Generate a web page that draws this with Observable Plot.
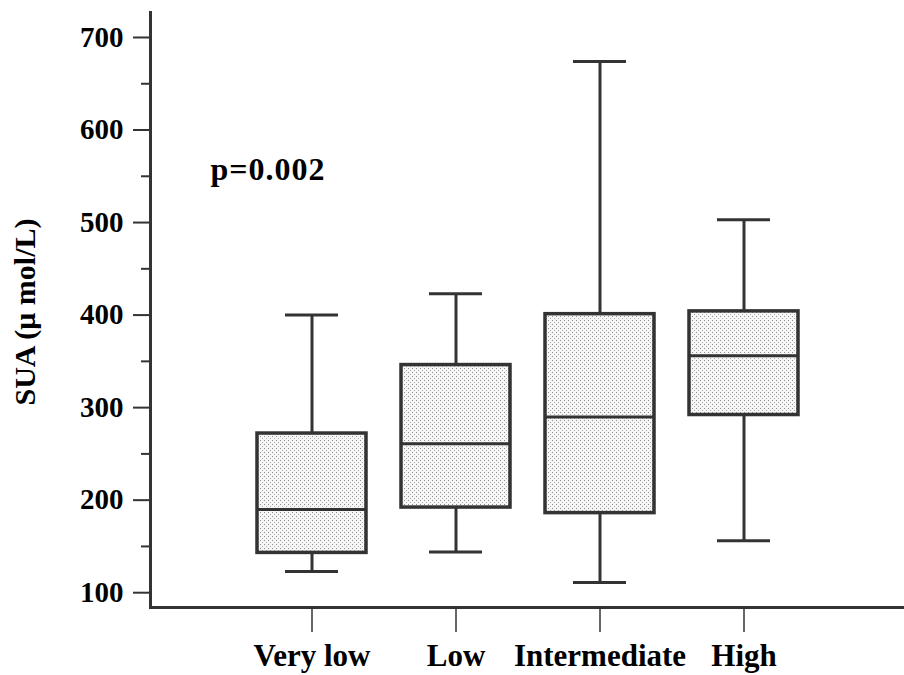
<!DOCTYPE html>
<html>
<head>
<meta charset="utf-8">
<script src="https://cdn.jsdelivr.net/npm/d3@7"></script>
<script src="https://cdn.jsdelivr.net/npm/@observablehq/plot@0.6"></script>
<style>
  html, body { margin: 0; padding: 0; background: white; }
</style>
</head>
<body>
<div id="chart"></div>
<script>
const categories = ["Very low", "Low", "Intermediate", "High"];
const whiskerLow  = [123, 144, 111, 156];
const q1          = [143, 192, 186, 292];
const median      = [190, 261, 290, 356];
const q3          = [272, 346, 401, 404];
const whiskerHigh = [400, 423, 674, 503];
const majorTicks = [100, 200, 300, 400, 500, 600, 700];
const minorTicks = [150, 250, 350, 450, 550, 650];
const yLabel = "SUA (\u03bc mol/L)";
const pText = "p=0.002";

const data = categories.map((c, i) => ({
  cat: c, lo: whiskerLow[i], q1: q1[i], med: median[i], q3: q3[i], hi: whiskerHigh[i]
}));

const ink = "#333";
const font = "'Liberation Serif', 'Times New Roman', serif";

const chart = Plot.plot({
  width: 904,
  height: 675,
  marginLeft: 150,
  marginRight: 0,
  marginTop: 12,
  marginBottom: 68,
  style: {fontFamily: font, fontWeight: "bold", fontSize: "29px", color: "black", background: "white"},
  x: {type: "band", domain: categories, paddingInner: 0.24, paddingOuter: 0.73, align: 0.505},
  y: {domain: [84, 727]},
  marks: [
    Plot.ruleX(data, {x: "cat", y1: "lo", y2: "q1", stroke: ink, strokeWidth: 3}),
    Plot.ruleX(data, {x: "cat", y1: "q3", y2: "hi", stroke: ink, strokeWidth: 3}),
    Plot.tickY(data, {x: "cat", y: "lo", insetLeft: 28, insetRight: 28, stroke: ink, strokeWidth: 3}),
    Plot.tickY(data, {x: "cat", y: "hi", insetLeft: 28, insetRight: 28, stroke: ink, strokeWidth: 3}),
    Plot.barY(data, {x: "cat", y1: "q1", y2: "q3", fill: "url(#dots)", stroke: ink, strokeWidth: 3.5}),
    Plot.tickY(data, {x: "cat", y: "med", stroke: ink, strokeWidth: 3}),
    Plot.axisY(majorTicks, {tickSize: 17, tickPadding: 10, stroke: ink, strokeWidth: 2, fill: "black", label: null, fontSize: 29, fontWeight: "bold"}),
    Plot.axisY(minorTicks, {tickSize: 9, stroke: ink, strokeWidth: 2, tickFormat: () => "", label: null}),
    Plot.axisX({tickSize: 25, tickPadding: 11, stroke: ink, strokeWidth: 1.5, fill: "black", label: null, fontSize: 31, fontWeight: "bold"}),
    Plot.frame({anchor: "left", stroke: ink, strokeWidth: 3}),
    Plot.frame({anchor: "bottom", stroke: ink, strokeWidth: 3}),
    Plot.text([yLabel], {frameAnchor: "left", textAnchor: "middle", rotate: -90, dx: -125, dy: 2, fontSize: 30, fontWeight: "bold", fill: "black"}),
    Plot.text([pText], {x: () => categories[0], y: () => 558, dx: -44, dy: 1, fontSize: 32, fontWeight: "bold", fill: "black"})
  ]
});

const defs = d3.select(chart).insert("defs", ":first-child");
const pat = defs.append("pattern")
  .attr("id", "dots").attr("patternUnits", "userSpaceOnUse")
  .attr("width", 4).attr("height", 4);
pat.append("rect").attr("width", 4).attr("height", 4).attr("fill", "#f6f6f6");
pat.append("rect").attr("x", 0).attr("y", 0).attr("width", 1).attr("height", 1).attr("fill", "#8c8c8c");
pat.append("rect").attr("x", 2).attr("y", 2).attr("width", 1).attr("height", 1).attr("fill", "#aaaaaa");

d3.select(chart).selectAll("text").filter(function() { return this.textContent === pText; })
  .style("letter-spacing", "1px");

document.getElementById("chart").appendChild(chart);
</script>
</body>
</html>
